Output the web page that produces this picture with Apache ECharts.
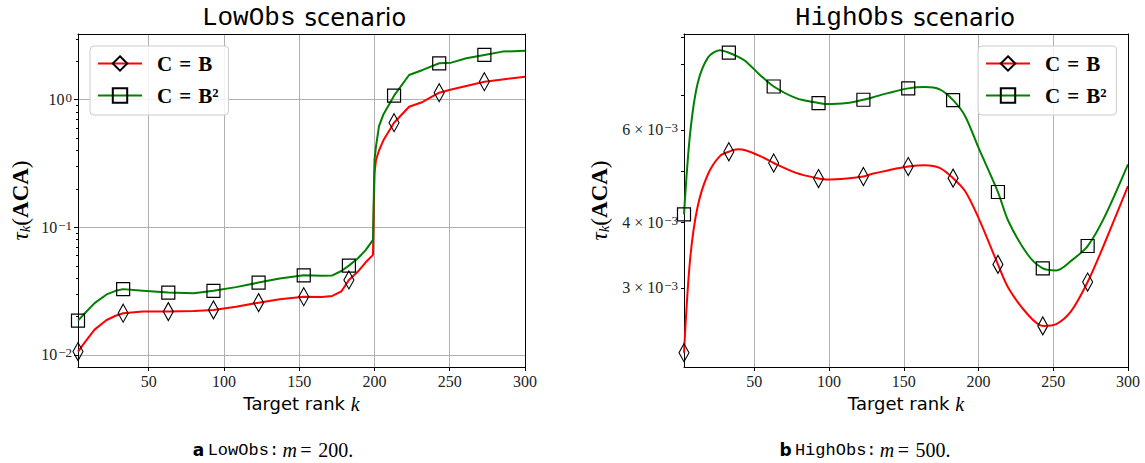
<!DOCTYPE html>
<html><head><meta charset="utf-8">
<script src="https://cdn.jsdelivr.net/npm/echarts@6/dist/echarts.min.js"></script>
<style>html,body{margin:0;padding:0;background:#fff}#c{width:1145px;height:463px}</style>
</head><body><div id="c"></div>
<script>
// ---------- data ----------
const seriesNames = ['C\u2004=\u2004B', 'C\u2004=\u2004B\u00B2'];
const markK = [3, 33, 63, 93, 123, 153, 183, 213, 243, 273];

// LowObs (left panel)
const lowCurveK = [8, 14, 22, 28, 46, 80, 108, 137, 165, 172, 178, 189, 194, 199, 200, 201, 203, 206, 223, 232, 251, 261, 285, 300];
const lowB  = [0.0128, 0.0158, 0.0188, 0.0203, 0.0219, 0.0221, 0.0239, 0.0273, 0.0284, 0.0290, 0.0315, 0.0450, 0.0530, 0.0608, 0.265, 0.337, 0.40, 0.483, 0.88, 0.96, 1.20, 1.28, 1.44, 1.51];
const lowB2 = [0.0215, 0.0255, 0.0298, 0.0318, 0.0319, 0.0305, 0.0340, 0.0397, 0.0418, 0.0420, 0.0455, 0.0573, 0.066, 0.0797, 0.337, 0.43, 0.62, 0.77, 1.56, 1.71, 1.95, 2.11, 2.38, 2.42];
const lowMarkB  = [0.01064, 0.02124, 0.02188, 0.02254, 0.0257, 0.0286, 0.0387, 0.660, 1.134, 1.383];
const lowMarkB2 = [0.01859, 0.0328, 0.0308, 0.0318, 0.0369, 0.0421, 0.0501, 1.075, 1.928, 2.24];

// HighObs (right panel)
const highCurveK = [7, 12, 19, 27, 39, 44, 54, 78, 98, 112, 129, 140, 164, 174, 191, 200, 220, 233, 252, 262, 284, 300];
const highB  = [0.00338, 0.00427, 0.00494, 0.00535, 0.00551, 0.00549, 0.00535, 0.00497, 0.00483, 0.00485, 0.00495, 0.00503, 0.00514, 0.00508, 0.00459, 0.00408, 0.00300, 0.00267, 0.00256, 0.00271, 0.00363, 0.00469];
const highB2 = [0.00587, 0.00733, 0.00824, 0.00851, 0.00828, 0.00812, 0.00763, 0.00690, 0.00672, 0.00675, 0.00692, 0.00706, 0.00724, 0.00717, 0.00638, 0.00555, 0.00402, 0.00347, 0.00324, 0.00338, 0.00408, 0.00516];
const highMarkB  = [0.002258, 0.005453, 0.00519, 0.004848, 0.004892, 0.00511, 0.004856, 0.003327, 0.00254, 0.003079];
const highMarkB2 = [0.004143, 0.00842, 0.00726, 0.00675, 0.00685, 0.00720, 0.00684, 0.00457, 0.003269, 0.003606];

// ticks
const xTicks = [50, 100, 150, 200, 250, 300];
const lowYMajor = [0.01, 0.1, 1];
const lowYMinor = [0.02, 0.03, 0.04, 0.05, 0.06, 0.07, 0.08, 0.09, 0.2, 0.3, 0.4, 0.5, 0.6, 0.7, 0.8, 0.9, 2, 3];
const highYTicks = [0.003, 0.004, 0.005, 0.006, 0.007, 0.008, 0.009];
const highYLabels = [0.003, 0.004, 0.006];

// ---------- chart ----------
const SERIF = "'Liberation Serif', 'DejaVu Serif', serif";
const SANS = "'DejaVu Sans', sans-serif";
const MONO = "'Liberation Mono', 'DejaVu Sans Mono', monospace";
const RED = '#ff0000', GREEN = '#008000', GRIDC = '#b0b0b0';

function merge(ck, cv, mk, mv) {
  const pts = ck.map((k, i) => ({ value: [k, cv[i]], symbol: 'none' }));
  mk.forEach((k, i) => pts.push({ value: [k, mv[i]] }));
  pts.sort((a, b) => a.value[0] - b.value[0]);
  return pts;
}
function supFmt(prefix, exp) {
  return '{b|' + prefix + '}{s|' + exp + '}';
}
const tickRich = {
  b: { fontFamily: SERIF, fontSize: 16, color: '#222' },
  s: { fontFamily: SERIF, fontSize: 13, color: '#222', verticalAlign: 'top', padding: [0, 0, 4, 1] }
};
const xName = '{n|Target rank }{k|k}';
const xNameRich = {
  n: { fontFamily: SANS, fontSize: 18, color: '#000' },
  k: { fontFamily: SERIF, fontStyle: 'italic', fontSize: 20, color: '#000' }
};
const yName = '{t|\u03C4}{k|k}{p|(}{a|ACA}{p|)}';
const yNameRich = {
  t: { fontFamily: SERIF, fontStyle: 'italic', fontSize: 23, color: '#000' },
  k: { fontFamily: SERIF, fontStyle: 'italic', fontSize: 15, color: '#000', verticalAlign: 'bottom', padding: [8, 0, 0, 0] },
  p: { fontFamily: SERIF, fontSize: 23, color: '#000' },
  a: { fontFamily: SERIF, fontWeight: 'bold', fontSize: 23, color: '#000' }
};

function bottomX(gi) {
  return {
    type: 'value', gridIndex: gi, position: 'bottom', min: 3, max: 300,
    axisLine: { show: true, onZero: false, lineStyle: { color: '#000', width: 1 } },
    axisTick: { show: true, customValues: xTicks, length: 4, lineStyle: { color: '#000' } },
    axisLabel: { customValues: xTicks, margin: 6, fontFamily: SERIF, fontSize: 16, color: '#222' },
    splitLine: { show: true, lineStyle: { color: GRIDC, width: 1 } },
    name: xName, nameLocation: 'middle', nameGap: 26,
    nameTextStyle: { rich: xNameRich }
  };
}
function topX(gi) {
  return {
    type: 'value', gridIndex: gi, position: 'top', min: 3, max: 300, z: 5,
    axisLine: { show: true, onZero: false, lineStyle: { color: '#000', width: 1 } },
    axisTick: { show: false }, axisLabel: { show: false }, splitLine: { show: false }
  };
}
function rightY(gi, mn, mx) {
  return {
    type: 'log', gridIndex: gi, position: 'right', min: mn, max: mx, z: 5,
    axisLine: { show: true, onZero: false, lineStyle: { color: '#000', width: 1 } },
    axisTick: { show: false }, axisLabel: { show: false }, splitLine: { show: false }
  };
}

const LOWMIN = 0.00805, LOWMAX = 3.27;
const HIGHMIN = 0.002121, HIGHMAX = 0.00914;

const titleRich = {
  m: { fontFamily: MONO, fontSize: 26, fill: '#000' },
  g: { fontFamily: SANS, fontSize: 24, width: 9 },
  s: { fontFamily: SANS, fontSize: 24, fill: '#000' }
};
const capRich = {
  a: { fontFamily: SANS, fontWeight: 'bold', fontSize: 17, fill: '#000' },
  t: { fontFamily: MONO, fontSize: 17, fill: '#000' },
  m: { fontFamily: SERIF, fontStyle: 'italic', fontSize: 20, fill: '#000' },
  r: { fontFamily: SERIF, fontSize: 20, fill: '#000' }
};

const option = {
  animation: false,
  backgroundColor: '#fff',
  grid: [
    { left: 78, top: 34, width: 447, height: 333 },
    { left: 684, top: 34, width: 444, height: 333 }
  ],
  xAxis: [bottomX(0), topX(0), bottomX(1), topX(1)],
  yAxis: [
    { // 0: LowObs main
      type: 'log', gridIndex: 0, position: 'left', min: LOWMIN, max: LOWMAX,
      axisLine: { show: true, onZero: false, lineStyle: { color: '#000', width: 1 } },
      axisTick: { show: true, customValues: lowYMajor, length: 4, lineStyle: { color: '#000' } },
      axisLabel: {
        customValues: lowYMajor, margin: 6,
        formatter: v => { const e = Math.round(Math.log10(v)); return supFmt('10', e < 0 ? '\u2212' + (-e) : String(e)); },
        rich: tickRich
      },
      splitLine: { show: true, lineStyle: { color: GRIDC, width: 1 } },
      name: yName, nameLocation: 'middle', nameRotate: 90, nameGap: 46,
      nameTextStyle: { rich: yNameRich }
    },
    { // 1: LowObs minor ticks
      type: 'log', gridIndex: 0, position: 'left', min: LOWMIN, max: LOWMAX,
      axisLine: { show: false },
      axisTick: { show: true, customValues: lowYMinor, length: 2, lineStyle: { color: '#000' } },
      axisLabel: { show: false }, splitLine: { show: false }
    },
    rightY(0, LOWMIN, LOWMAX),
    { // 3: HighObs main
      type: 'log', gridIndex: 1, position: 'left', min: HIGHMIN, max: HIGHMAX,
      axisLine: { show: true, onZero: false, lineStyle: { color: '#000', width: 1 } },
      axisTick: { show: true, customValues: highYTicks, length: 3, lineStyle: { color: '#000' } },
      axisLabel: {
        customValues: highYLabels, margin: 6,
        formatter: v => supFmt(Math.round(v * 1000) + ' \u00D7 10', '\u22123'),
        rich: tickRich
      },
      splitLine: { show: false },
      name: yName, nameLocation: 'middle', nameRotate: 90, nameGap: 73,
      nameTextStyle: { rich: yNameRich }
    },
    rightY(1, HIGHMIN, HIGHMAX)
  ],
  legend: [0, 1].map(i => ({
    data: seriesNames,
    orient: 'vertical',
    left: i === 0 ? 90 : 978, top: 46,
    itemWidth: 44, itemHeight: 18, itemGap: 11,
    padding: [7, 10, 9, 7],
    backgroundColor: 'rgba(255,255,255,0.85)',
    borderColor: '#cccccc', borderWidth: 1, borderRadius: 4,
    textStyle: { fontFamily: SERIF, fontWeight: 'bold', fontSize: 21, color: '#000', padding: [0, 0, 0, 10] },
    selectedMode: false
  })),
  series: [
    { name: seriesNames[0], data: merge(lowCurveK, lowB, markK, lowMarkB), xAxisIndex: 0, yAxisIndex: 0, mk: 'd' },
    { name: seriesNames[1], data: merge(lowCurveK, lowB2, markK, lowMarkB2), xAxisIndex: 0, yAxisIndex: 0, mk: 's' },
    { name: seriesNames[0], data: merge(highCurveK, highB, markK, highMarkB), xAxisIndex: 2, yAxisIndex: 3, mk: 'd', smooth: 0.3 },
    { name: seriesNames[1], data: merge(highCurveK, highB2, markK, highMarkB2), xAxisIndex: 2, yAxisIndex: 3, mk: 's', smooth: 0.3 }
  ].map(s => ({
    type: 'line', name: s.name, data: s.data, xAxisIndex: s.xAxisIndex, yAxisIndex: s.yAxisIndex,
    smooth: s.smooth || false,
    symbol: s.mk === 'd' ? 'diamond' : 'rect',
    symbolSize: s.mk === 'd' ? [10, 18] : [13, 13],
    showSymbol: true, showAllSymbol: true,
    lineStyle: { color: s.mk === 'd' ? RED : GREEN, width: 2 },
    itemStyle: { color: 'none', borderColor: '#000', borderWidth: 1.2 },
    emphasis: { disabled: true },
    z: 3
  })),
  graphic: [
    { type: 'text', x: 304, y: 18, style: { text: '{m|LowObs}{g| }{s|scenario}', textAlign: 'center', textVerticalAlign: 'middle', rich: titleRich } },
    { type: 'text', x: 905, y: 18, style: { text: '{m|HighObs}{g| }{s|scenario}', textAlign: 'center', textVerticalAlign: 'middle', rich: titleRich } },
    { type: 'text', x: 273, y: 450, style: { text: '{a|a} {t|LowObs:} {m|m} {r|=\u2004200.}', textAlign: 'center', textVerticalAlign: 'middle', rich: capRich } },
    { type: 'text', x: 865, y: 450, style: { text: '{a|b} {t|HighObs:} {m|m} {r|=\u2004500.}', textAlign: 'center', textVerticalAlign: 'middle', rich: capRich } }
  ]
};

const chart = echarts.init(document.getElementById('c'), null, { renderer: 'svg', width: 1145, height: 463 });
chart.setOption(option);
</script>
</body></html>
